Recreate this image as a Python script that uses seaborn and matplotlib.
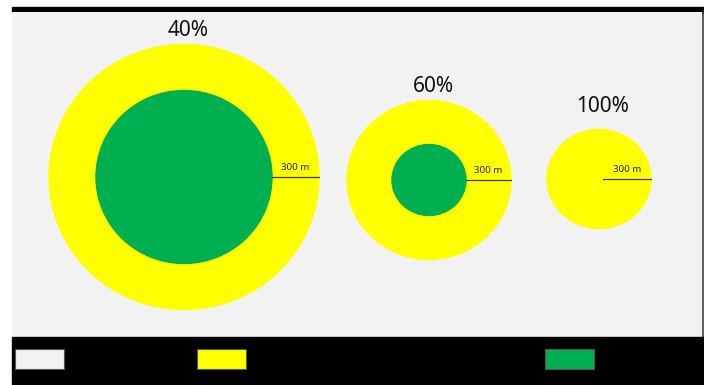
import matplotlib
matplotlib.use("Agg")
import matplotlib.pyplot as plt
from matplotlib.patches import Ellipse, Rectangle
import seaborn as sns

# three scenarios: share label, outer (yellow) and inner (green) radius
labels = ["40%", "60%", "100%"]
outer_r = [134, 81, 51]
inner_r = [88, 37, 0]
scale_text = ["300 m", "300 m", "300 m"]

# legend swatches at the bottom band
legend_colors = ["#f2f2f2", "#ffff00", "#00b050"]

sns.set_theme(style="white")
plt.rcParams["font.family"] = ["Noto Sans", "DejaVu Sans"]

fig = plt.figure(figsize=(7.04, 3.85), dpi=100)
ax = fig.add_axes([0, 0, 1, 1])
ax.set_xlim(0, 704)
ax.set_ylim(385, 0)
ax.axis("off")

# frame: black top strip, grey panel, black bottom band
ax.add_patch(Rectangle((12, 7), 692, 6, color="black", zorder=1))
ax.add_patch(Rectangle((12, 12), 690, 325, facecolor="#f2f2f2",
                       edgecolor="none", zorder=1))
ax.plot([702.5, 702.5], [12, 337], color="#404040", lw=1.2, zorder=1)
ax.add_patch(Rectangle((12, 337), 692, 48, color="black", zorder=1))

cx = [184, 429, 599]
cy = [177, 180, 179]
label_y = [30, 86, 107]

for i, lab in enumerate(labels):
    ax.add_patch(Ellipse((cx[i], cy[i]), 2 * outer_r[i] + 2, 2 * outer_r[i] - 3,
                         color="#ffff00", zorder=2))
    if inner_r[i] > 0:
        ax.add_patch(Ellipse((cx[i], cy[i]), 2 * inner_r[i], 2 * inner_r[i] - 3,
                             color="#00b050", zorder=3))
    x0 = cx[i] + (inner_r[i] if inner_r[i] > 0 else 4)
    x1 = cx[i] + outer_r[i] + 1
    ax.plot([x0, x1], [cy[i], cy[i]], color="#3a3a1a", lw=0.9, zorder=4)
    ax.text((x0 + x1) / 2, cy[i] - 5, scale_text[i], ha="center", va="bottom",
            fontsize=7, color="#222222", zorder=5)
    ax.text(cx[i] + 4, label_y[i], lab, ha="center", va="center",
            fontsize=15, color="#111111", zorder=5)

legend_x = [15, 197, 545]
for x, c in zip(legend_x, legend_colors):
    ax.add_patch(Rectangle((x, 349), 49, 20, facecolor=c,
                           edgecolor="#555555", lw=0.8, zorder=2))

fig.savefig("out.png", dpi=100, facecolor="white")
